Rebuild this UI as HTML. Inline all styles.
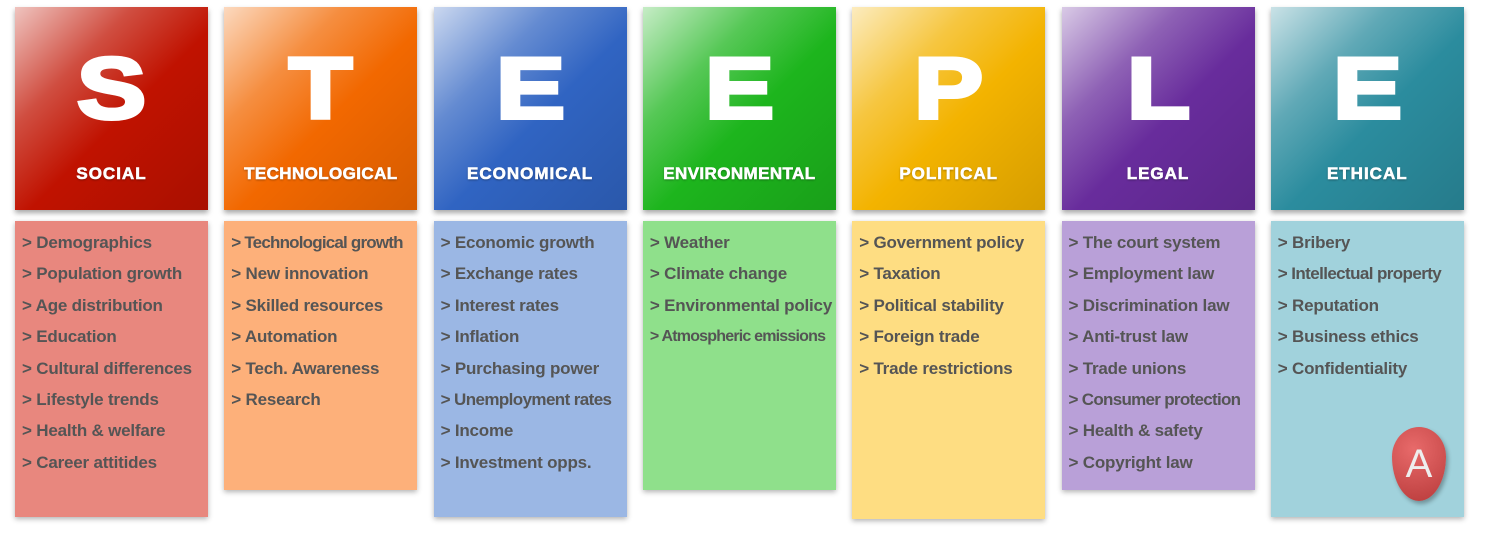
<!DOCTYPE html>
<html><head><meta charset="utf-8">
<style>
body{margin:0;width:1492px;height:537px;background:#fff;overflow:hidden;font-family:"Liberation Sans",Arial,sans-serif;position:relative}
.col{position:absolute;top:7px;width:193px}
.hd{position:absolute;left:0;top:0;width:193px;height:203px;box-shadow:0 3px 5px rgba(0,0,0,.35)}
.hd .gl{position:absolute;inset:0;background:linear-gradient(135deg,rgba(255,255,255,.75) 0%,rgba(255,255,255,.25) 30%,rgba(255,255,255,0) 55%,rgba(0,0,0,.12) 100%)}
.big{position:absolute;left:0;right:0;top:32px;text-align:center;color:#fff;font-weight:bold;font-size:86px;line-height:100px;transform:scaleX(1.2);-webkit-text-stroke:4px #fff}
.lbl{position:absolute;left:0;right:0;top:157px;text-align:center;color:#fff;font-weight:bold;font-size:17px;letter-spacing:1px;-webkit-text-stroke:0.6px #fff;text-shadow:0 1px 2px rgba(0,0,0,.4)}
.bd{position:absolute;left:0;top:214px;width:193px;box-shadow:0 2px 5px rgba(0,0,0,.3)}
.bd div{position:absolute;left:7px;font-size:17px;font-weight:bold;color:#555;white-space:nowrap;line-height:20px;letter-spacing:-0.2px}
.badge{position:absolute;left:1392px;top:427px;width:54px;height:74px;border-radius:50% 50% 50% 50%/40% 40% 60% 60%;background:radial-gradient(circle at 40% 30%,#e86a6a,#b83a3a);box-shadow:2px 3px 4px rgba(0,0,0,.3);color:#eee;font-size:40px;text-align:center;line-height:74px}
</style></head><body>
<div id="root"></div>
<div class="badge">A</div>
<script>
const letters=["S","T","E","E","P","L","E"];
const titles=["SOCIAL","TECHNOLOGICAL","ECONOMICAL","ENVIRONMENTAL","POLITICAL","LEGAL","ETHICAL"];
const headColors=["#c01200","#f26800","#3064c2","#1db51d","#f3b300","#682c9c","#2b8c9e"];
const bodyColors=["#e8877e","#fdb07a","#9bb7e4","#8fe08b","#fedd82","#b9a0d8","#a1d2dc"];
const items=[
["Demographics","Population growth","Age distribution","Education","Cultural differences","Lifestyle trends","Health & welfare","Career attitides"],
["Technological growth","New innovation","Skilled resources","Automation","Tech. Awareness","Research"],
["Economic growth","Exchange rates","Interest rates","Inflation","Purchasing power","Unemployment rates","Income","Investment opps."],
["Weather","Climate change","Environmental policy","Atmospheric emissions"],
["Government policy","Taxation","Political stability","Foreign trade","Trade restrictions"],
["The court system","Employment law","Discrimination law","Anti-trust law","Trade unions","Consumer protection","Health & safety","Copyright law"],
["Bribery","Intellectual property","Reputation","Business ethics","Confidentiality"]];
const bodyH=[296,269,296,269,298,269,296];
const root=document.getElementById('root');
for(let i=0;i<7;i++){
 const c=document.createElement('div');c.className='col';c.style.left=(15+i*209.3)+'px';
 
 
 const h=document.createElement('div');h.className='hd';h.style.background=headColors[i];
 
 
 h.innerHTML='<div class="gl"></div>';
 const b=document.createElement('div');b.className='big';b.textContent=letters[i];
 
 
 const l=document.createElement('div');l.className='lbl';l.textContent=titles[i];
 
 
 if(i==1||i==3){l.style.letterSpacing='0.4px';}
 h.appendChild(b);h.appendChild(l);c.appendChild(h);
 const bd=document.createElement('div');bd.className='bd';bd.style.background=bodyColors[i];bd.style.height=bodyH[i]+'px';
 
 
 items[i].forEach((t,k)=>{const d=document.createElement('div');d.textContent='> '+t;d.style.top=(12+k*31.4)+'px';
  if(i==3&&k==3){d.style.fontSize='16px';d.style.letterSpacing='-0.8px';}
  if(i==1&&k==0){d.style.letterSpacing='-0.8px';}
  if(i==6&&k==1){d.style.letterSpacing='-0.6px';}
  if(i==5&&k==5){d.style.letterSpacing='-0.7px';}
  if(i==2&&k==5){d.style.letterSpacing='-0.6px';}
  
  
  bd.appendChild(d);});
 c.appendChild(bd);root.appendChild(c);
}
</script>
</body></html>
